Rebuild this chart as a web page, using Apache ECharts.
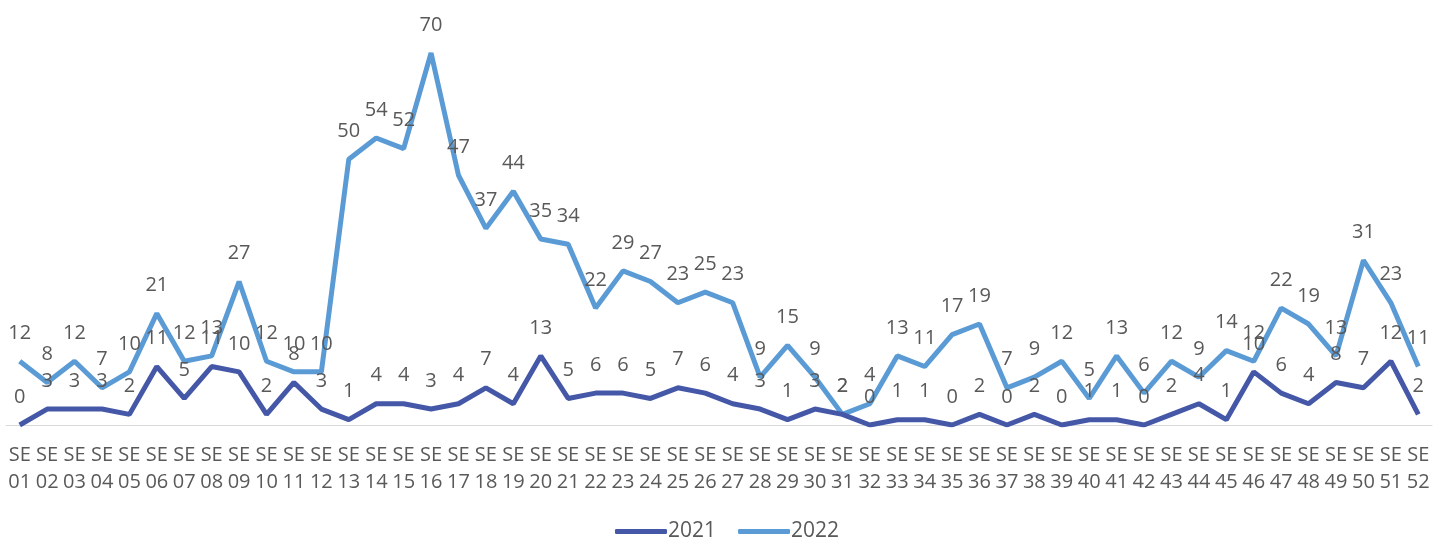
<!DOCTYPE html>
<html>
<head>
<meta charset="utf-8">
<script src="https://cdn.jsdelivr.net/npm/echarts@6/dist/echarts.min.js"></script>
<style>html,body{margin:0;padding:0;background:#fff}#c{width:1433px;height:541px}</style>
</head>
<body>
<div id="c"></div>
<script>
var weeks = ["01","02","03","04","05","06","07","08","09","10","11","12","13","14","15","16","17","18","19","20","21","22","23","24","25","26","27","28","29","30","31","32","33","34","35","36","37","38","39","40","41","42","43","44","45","46","47","48","49","50","51","52"];
var categories = weeks.map(function(w){ return "SE\n" + w; });
var series2021 = [0,3,3,3,2,11,5,11,10,2,8,3,1,4,4,3,4,7,4,13,5,6,6,5,7,6,4,3,1,3,2,0,1,1,0,2,0,2,0,1,1,0,2,4,1,10,6,4,8,7,12,2];
var series2022 = [12,8,12,7,10,21,12,13,27,12,10,10,50,54,52,70,47,37,44,35,34,22,29,27,23,25,23,9,15,9,2,4,13,11,17,19,7,9,12,5,13,6,12,9,14,12,22,19,13,31,23,11];

var chart = echarts.init(document.getElementById('c'));
var FF = 'Open Sans, Liberation Sans, Arial, sans-serif';
var lbl = { show: true, position: 'top', distance: 18, color: '#595959', fontSize: 20, fontFamily: FF };
chart.setOption({
  animation: false,
  grid: { left: 6, right: 1, top: 53, bottom: 116 },
  legend: {
    data: ['2021', '2022'],
    bottom: -6, left: 610,
    icon: 'roundRect', itemWidth: 52, itemHeight: 5, itemGap: 22,
    textStyle: { color: '#595959', fontSize: 21, fontFamily: FF, padding: [0, 0, 0, -4] }
  },
  xAxis: {
    type: 'category', data: categories, boundaryGap: true,
    axisLine: { lineStyle: { color: '#d9d9d9', width: 1 } },
    axisTick: { show: false },
    axisLabel: { interval: 0, color: '#595959', fontSize: 20, lineHeight: 27, margin: 17, fontFamily: FF }
  },
  yAxis: { type: 'value', min: 0, max: 70, show: false, splitLine: { show: false } },
  series: [
    { name: '2021', type: 'line', data: series2021, symbol: 'circle', symbolSize: 0.01, showAllSymbol: true,
      itemStyle: { color: '#4558A8' }, lineStyle: { width: 5, color: '#4558A8' }, label: lbl, labelLayout: { hideOverlap: false }, z: 3 },
    { name: '2022', type: 'line', data: series2022, symbol: 'circle', symbolSize: 0.01, showAllSymbol: true,
      itemStyle: { color: '#5B9BD5' }, lineStyle: { width: 5, color: '#5B9BD5' }, label: lbl, labelLayout: { hideOverlap: false }, z: 2 }
  ]
});
</script>
</body>
</html>
